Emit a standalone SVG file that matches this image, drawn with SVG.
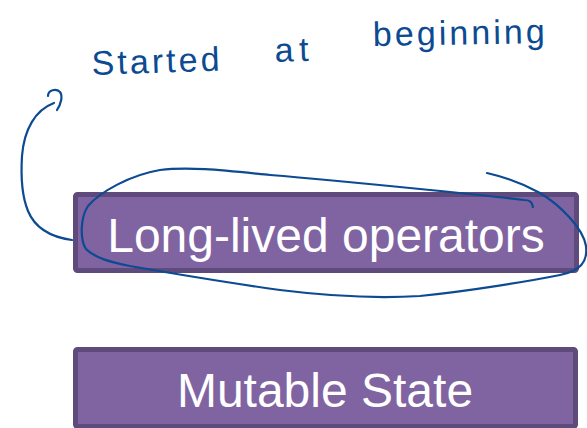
<svg xmlns="http://www.w3.org/2000/svg" width="587" height="428" viewBox="0 0 587 428">
  <style>
    .box { fill: #8064a2; stroke: #5e4a7b; stroke-width: 5; }
    .label { font-family: "Liberation Sans", Arial, sans-serif; font-size: 48px; fill: #ffffff; text-anchor: middle; }
    .ink { fill: none; stroke: #0c4a92; stroke-width: 2.2; stroke-linecap: round; stroke-linejoin: round; }
    .note { font-family: "Liberation Sans", Arial, sans-serif; font-size: 34px; fill: #0c4a92; }
  </style>
  <rect width="587" height="428" fill="#ffffff"/>

  <!-- operator block -->
  <g id="long-lived-operators">
    <rect class="box" x="75.5" y="194.5" width="501" height="76" rx="2"/>
    <text class="label" x="326" y="252">Long-lived operators</text>
  </g>

  <!-- state block -->
  <g id="mutable-state">
    <rect class="box" x="75.5" y="349.5" width="500" height="77" rx="2"/>
    <text class="label" x="325" y="407">Mutable State</text>
  </g>

  <!-- handwritten note -->
  <g id="note">
    <text class="note" x="92" y="75" textLength="128" lengthAdjust="spacing" transform="rotate(-2 92 75)">Started</text>
    <text class="note" x="275" y="62" textLength="34" lengthAdjust="spacing" transform="rotate(-2 275 62)">at</text>
    <text class="note" x="373" y="46" textLength="172" lengthAdjust="spacing" transform="rotate(-1 373 46)">beginning</text>
  </g>

  <!-- ink strokes: arrow to the note and loop round the operator block -->
  <g id="connectors">
    <path class="ink" d="M72,240 C50,237 35,228 28,211 C21,194 21,172 22,156 C24,130 35,110 54,103"/>
    <path class="ink" d="M48,96 C48,90 56,88 60,92 C63,96 61,104 57,110"/>
    <path class="ink" d="M533,207 C532,202 530,200 524,200 C500,197 460,193 430,190 C380,185 320,179 270,175 C230,171 190,166 160,170 C130,175 100,192 88,206 C80,218 80,240 86,249 C95,258 110,262 130,266 C170,273 230,283 280,290 C320,295 370,299 420,296 C470,291 530,281 560,275 C580,271 588,262 586,246 C583,228 560,205 540,193 C520,182 500,176 487,173"/>
  </g>
</svg>
